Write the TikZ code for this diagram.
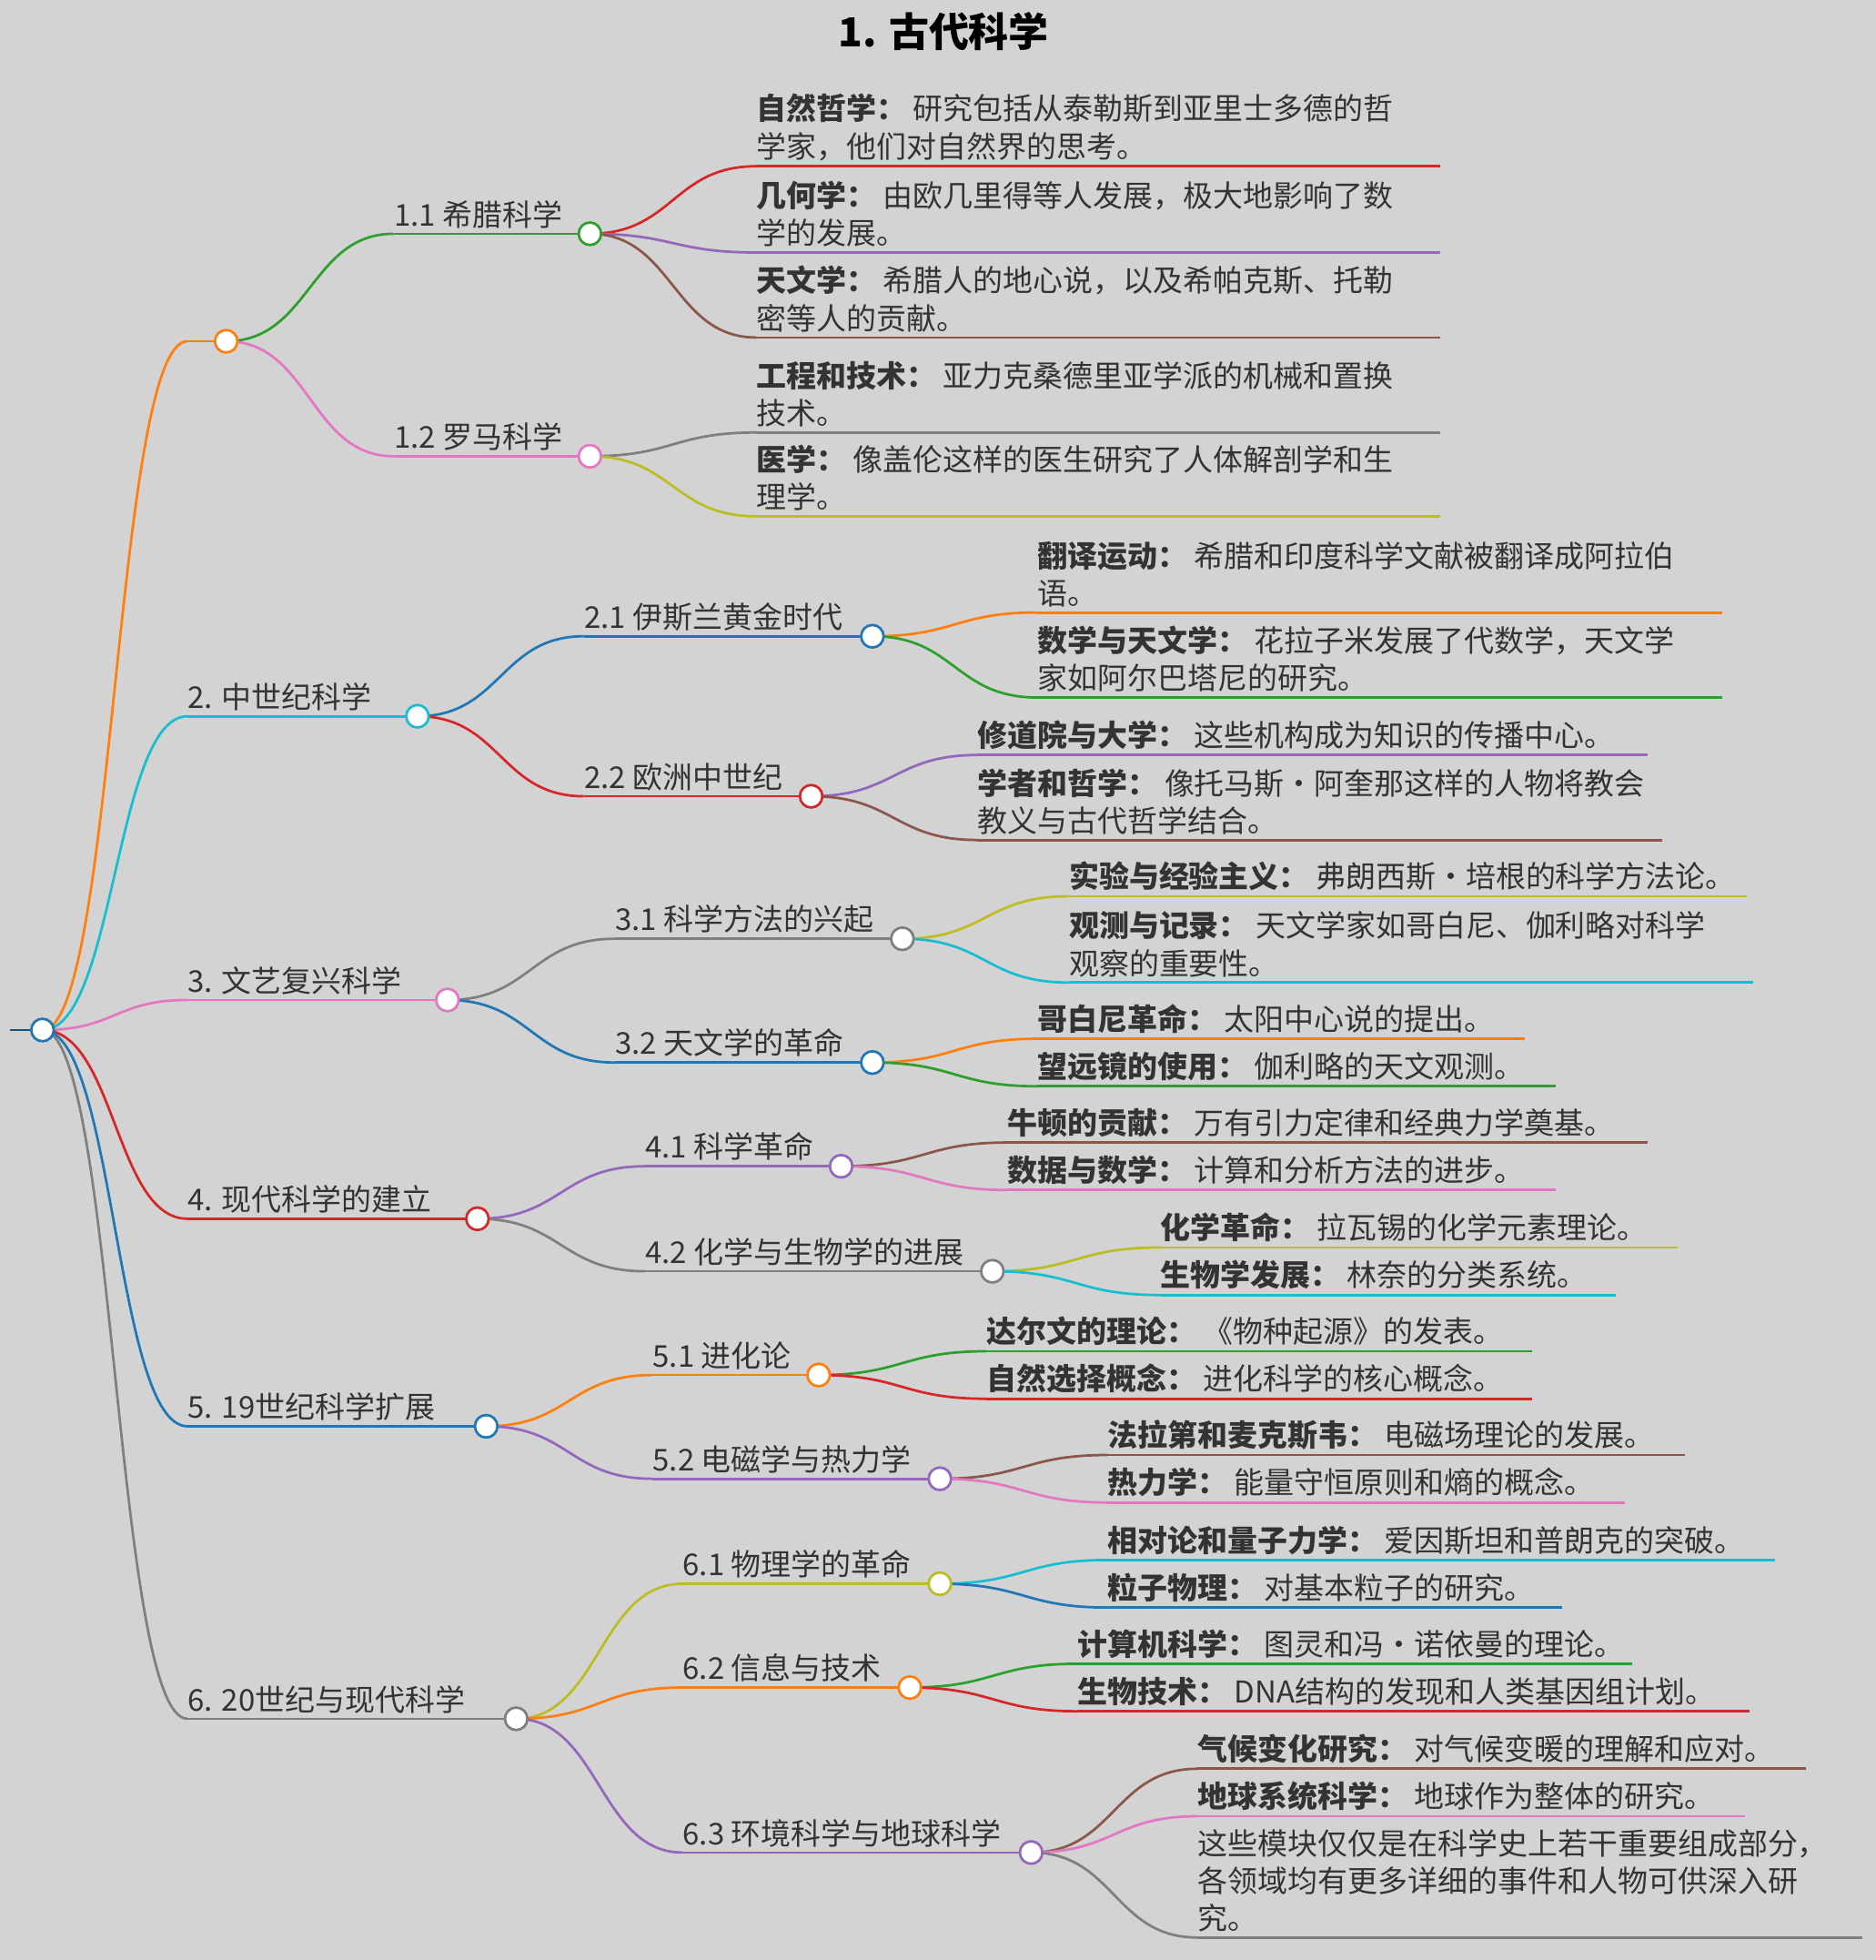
\documentclass[tikz,border=0pt]{standalone}
\usepackage{fontspec}
\setmainfont{Noto Sans CJK SC}
\usetikzlibrary{calc}
\pgfdeclarelayer{fg}\pgfsetlayers{main,fg}
\definecolor{bg}{HTML}{D3D3D3}
\definecolor{tc}{HTML}{333333}
\definecolor{cO}{HTML}{FF7F0E}
\definecolor{cG}{HTML}{2CA02C}
\definecolor{cR}{HTML}{D62728}
\definecolor{cP}{HTML}{9467BD}
\definecolor{cB}{HTML}{8C564B}
\definecolor{cK}{HTML}{E377C2}
\definecolor{cY}{HTML}{7F7F7F}
\definecolor{cL}{HTML}{BCBD22}
\definecolor{cC}{HTML}{17BECF}
\definecolor{cU}{HTML}{1F77B4}
\tikzset{br/.style={line width=1pt},
 dot/.style={circle,fill=white,line width=1pt,minimum size=9pt,inner sep=0pt},
 txt/.style={text=tc,font=\fontsize{12}{15}\selectfont,align=left,inner sep=0pt,anchor=south west}}
\newcommand\conn[3]{\draw[#3,br] let \p1=(#1),\p2=(#2) in (\p1) .. controls ({(\x1+\x2)/2},\y1) and ({(\x1+\x2)/2},\y2) .. (\p2);}
\newcommand\mnode[7]{%
 \coordinate (#7s) at (#3,#5); \coordinate (#7) at (#4,#5);
 \conn{#1}{#7s}{#2}
 \draw[#2,br] (#7s) -- (#7);
 \node[txt] (#7l) at ($(#7s)+(0,-4)$) {#6};
 \begin{pgfonlayer}{fg}\node[dot,draw=#2] (#7c) at (#7) {};\end{pgfonlayer}}
\newcommand\lnode[7]{%
 \coordinate (#7s) at (#3,#5); \coordinate (#7) at (#4,#5);
 \conn{#1}{#7s}{#2}
 \draw[#2,br] (#7s) -- (#7);
 \node[txt] (#7l) at ($(#7s)+(0,-4)$) {#6};}
\begin{document}
\begin{tikzpicture}[x=0.5pt,y=-0.5pt]
\fill[bg] (0,0) rectangle (1501,1568);
\useasboundingbox (0,0) rectangle (1501,1568);
\node[text=black,font=\fontsize{16}{18}\selectfont\bfseries] (title) at (755,25) {1. 古代科学};
\coordinate (root) at (34,824);
\coordinate (rl) at (8,824);
\draw[cU!70!black,br] (rl) -- (root);
\begin{pgfonlayer}{fg}\node[dot,draw=cU] (rootc) at (root) {};\end{pgfonlayer}
% branch 1
\mnode{root}{cO}{150}{181}{273}{}{a}
\mnode{a}{cG}{315}{472}{187}{1.1 希腊科学}{a1}
\lnode{a1}{cR}{605}{1152}{133}{\textbf{自然哲学：} 研究包括从泰勒斯到亚里士多德的哲\\学家，他们对自然界的思考。}{a11}
\lnode{a1}{cP}{605}{1152}{202}{\textbf{几何学：} 由欧几里得等人发展，极大地影响了数\\学的发展。}{a12}
\lnode{a1}{cB}{605}{1152}{270}{\textbf{天文学：} 希腊人的地心说，以及希帕克斯、托勒\\密等人的贡献。}{a13}
\mnode{a}{cK}{315}{472}{365}{1.2 罗马科学}{a2}
\lnode{a2}{cY}{605}{1152}{346}{\textbf{工程和技术：} 亚力克桑德里亚学派的机械和置换\\技术。}{a21}
\lnode{a2}{cL}{605}{1152}{413}{\textbf{医学：} 像盖伦这样的医生研究了人体解剖学和生\\理学。}{a22}
% branch 2
\mnode{root}{cC}{150}{334}{573}{2. 中世纪科学}{b}
\mnode{b}{cU}{467}{698}{509}{2.1 伊斯兰黄金时代}{b1}
\lnode{b1}{cO}{830}{1378}{490}{\textbf{翻译运动：} 希腊和印度科学文献被翻译成阿拉伯\\语。}{b11}
\lnode{b1}{cG}{830}{1378}{558}{\textbf{数学与天文学：} 花拉子米发展了代数学，天文学\\家如阿尔巴塔尼的研究。}{b12}
\mnode{b}{cR}{467}{649}{637}{2.2 欧洲中世纪}{b2}
\lnode{b2}{cP}{782}{1318}{604}{\textbf{修道院与大学：} 这些机构成为知识的传播中心。}{b21}
\lnode{b2}{cB}{782}{1330}{672}{\textbf{学者和哲学：} 像托马斯·阿奎那这样的人物将教会\\教义与古代哲学结合。}{b22}
% branch 3
\mnode{root}{cK}{150}{358}{800}{3. 文艺复兴科学}{c}
\mnode{c}{cY}{492}{722}{751}{3.1 科学方法的兴起}{c1}
\lnode{c1}{cL}{855}{1398}{717}{\textbf{实验与经验主义：} 弗朗西斯·培根的科学方法论。}{c11}
\lnode{c1}{cC}{855}{1403}{786}{\textbf{观测与记录：} 天文学家如哥白尼、伽利略对科学\\观察的重要性。}{c12}
\mnode{c}{cU}{492}{698}{850}{3.2 天文学的革命}{c2}
\lnode{c2}{cO}{830}{1220}{831}{\textbf{哥白尼革命：} 太阳中心说的提出。}{c21}
\lnode{c2}{cG}{830}{1245}{869}{\textbf{望远镜的使用：} 伽利略的天文观测。}{c22}
% branch 4
\mnode{root}{cR}{150}{382}{975}{4. 现代科学的建立}{d}
\mnode{d}{cP}{516}{673}{933}{4.1 科学革命}{d1}
\lnode{d1}{cB}{806}{1318}{914}{\textbf{牛顿的贡献：} 万有引力定律和经典力学奠基。}{d11}
\lnode{d1}{cK}{806}{1245}{952}{\textbf{数据与数学：} 计算和分析方法的进步。}{d12}
\mnode{d}{cY}{516}{794}{1017}{4.2 化学与生物学的进展}{d2}
\lnode{d2}{cL}{928}{1342}{998}{\textbf{化学革命：} 拉瓦锡的化学元素理论。}{d21}
\lnode{d2}{cC}{928}{1293}{1036}{\textbf{生物学发展：} 林奈的分类系统。}{d22}
% branch 5
\mnode{root}{cU}{150}{389}{1141}{5. 19世纪科学扩展}{e}
\mnode{e}{cO}{522}{655}{1100}{5.1 进化论}{e1}
\lnode{e1}{cG}{789}{1226}{1081}{\textbf{达尔文的理论：} 《物种起源》的发表。}{e11}
\lnode{e1}{cR}{789}{1226}{1119}{\textbf{自然选择概念：} 进化科学的核心概念。}{e12}
\mnode{e}{cP}{522}{752}{1183}{5.2 电磁学与热力学}{e2}
\lnode{e2}{cB}{886}{1348}{1164}{\textbf{法拉第和麦克斯韦：} 电磁场理论的发展。}{e21}
\lnode{e2}{cK}{886}{1300}{1202}{\textbf{热力学：} 能量守恒原则和熵的概念。}{e22}
% branch 6
\mnode{root}{cY}{150}{413}{1375}{6. 20世纪与现代科学}{f}
\mnode{f}{cL}{546}{752}{1267}{6.1 物理学的革命}{f1}
\lnode{f1}{cC}{886}{1420}{1248}{\textbf{相对论和量子力学：} 爱因斯坦和普朗克的突破。}{f11}
\lnode{f1}{cU}{886}{1250}{1286}{\textbf{粒子物理：} 对基本粒子的研究。}{f12}
\mnode{f}{cO}{546}{728}{1350}{6.2 信息与技术}{f2}
\lnode{f2}{cG}{862}{1306}{1331}{\textbf{计算机科学：} 图灵和冯·诺依曼的理论。}{f21}
\lnode{f2}{cR}{862}{1400}{1369}{\textbf{生物技术：} DNA结构的发现和人类基因组计划。}{f22}
\mnode{f}{cP}{546}{825}{1482}{6.3 环境科学与地球科学}{f3}
\lnode{f3}{cB}{958}{1445}{1415}{\textbf{气候变化研究：} 对气候变暖的理解和应对。}{f31}
\lnode{f3}{cK}{958}{1396}{1453}{\textbf{地球系统科学：} 地球作为整体的研究。}{f32}
\lnode{f3}{cY}{958}{1490}{1550}{这些模块仅仅是在科学史上若干重要组成部分，\\各领域均有更多详细的事件和人物可供深入研\\究。}{f33}
\end{tikzpicture}
\end{document}
